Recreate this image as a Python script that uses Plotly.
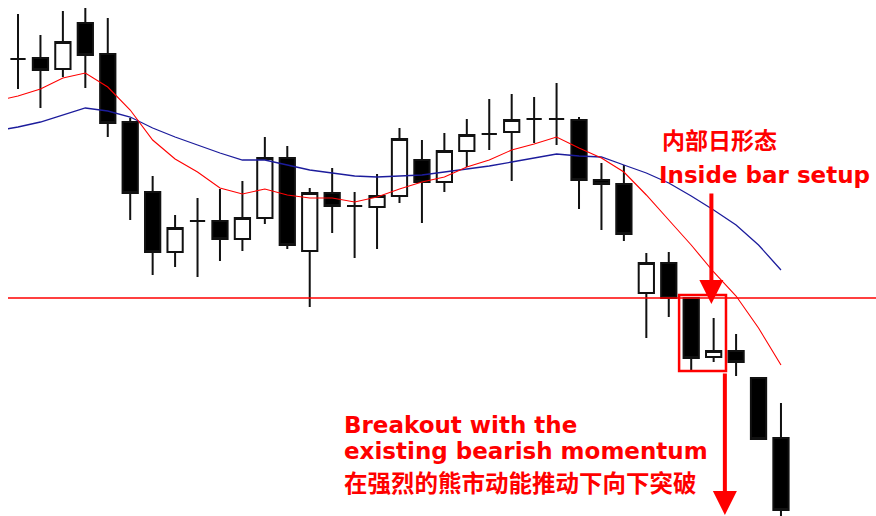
import plotly.graph_objects as go

# === Candle data (35 bars) ===
opens = [1.3239, 1.3240, 1.3229, 1.3275, 1.3244, 1.3176, 1.3106, 1.3046, 1.3077, 1.3077,
         1.3059, 1.3080, 1.3140, 1.3047, 1.3105, 1.3092, 1.3091, 1.3102, 1.3138, 1.3116,
         1.3147, 1.3164, 1.3166, 1.3179, 1.3179, 1.3178, 1.3118, 1.3114, 1.3005, 1.3035,
         1.3000, 1.2941, 1.2947, 1.2920, 1.2860]
highs = [1.3284, 1.3263, 1.3287, 1.3290, 1.3280, 1.3180, 1.3122, 1.3083, 1.3100, 1.3109,
         1.3117, 1.3161, 1.3152, 1.3110, 1.3130, 1.3106, 1.3124, 1.3170, 1.3158, 1.3165,
         1.3179, 1.3199, 1.3204, 1.3201, 1.3215, 1.3181, 1.3135, 1.3133, 1.3045, 1.3046,
         1.3000, 1.2980, 1.2964, 1.2921, 1.2895]
lows = [1.3209, 1.3190, 1.3221, 1.3210, 1.3161, 1.3078, 1.3023, 1.3031, 1.3021, 1.3037,
        1.3047, 1.3074, 1.3049, 1.2991, 1.3065, 1.3040, 1.3049, 1.3095, 1.3075, 1.3106,
        1.3131, 1.3148, 1.3117, 1.3155, 1.3153, 1.3089, 1.3068, 1.3057, 1.2960, 1.2981,
        1.2928, 1.2936, 1.2922, 1.2858, 1.2780]
closes = [1.3239, 1.3228, 1.3256, 1.3243, 1.3175, 1.3105, 1.3046, 1.3070, 1.3077, 1.3059,
          1.3080, 1.3140, 1.3053, 1.3105, 1.3092, 1.3092, 1.3102, 1.3159, 1.3116, 1.3147,
          1.3163, 1.3164, 1.3178, 1.3179, 1.3179, 1.3118, 1.3114, 1.3064, 1.3035, 1.3000,
          1.2940, 1.2947, 1.2936, 1.2859, 1.2788]

# === Moving averages (start one bar before the first visible candle) ===
ma_fast = [1.3197, 1.3202, 1.3209, 1.3220, 1.3225, 1.3211, 1.3188, 1.3158, 1.3139, 1.3126,
           1.3110, 1.3104, 1.3109, 1.3103, 1.3100, 1.3100, 1.3096, 1.3101, 1.3109, 1.3116,
           1.3121, 1.3131, 1.3138, 1.3148, 1.3154, 1.3161, 1.3150, 1.3140, 1.3126, 1.3103,
           1.3078, 1.3053, 1.3026, 1.3002, 1.2970, 1.2933]
ma_slow = [1.3167, 1.3171, 1.3176, 1.3183, 1.3190, 1.3187, 1.3181, 1.3170, 1.3161, 1.3153,
           1.3145, 1.3138, 1.3138, 1.3133, 1.3128, 1.3125, 1.3122, 1.3121, 1.3122, 1.3123,
           1.3126, 1.3129, 1.3132, 1.3136, 1.3140, 1.3144, 1.3142, 1.3141, 1.3133, 1.3125,
           1.3115, 1.3102, 1.3088, 1.3073, 1.3053, 1.3028]

support = 1.3000
inside_pair = (30, 31)  # mother bar + inside bar

bars = list(range(len(opens)))
ma_x = list(range(-1, len(opens)))

RED = "#ff0000"

fig = go.Figure()
fig.add_trace(go.Scatter(x=ma_x, y=ma_slow, mode="lines",
                         line=dict(color="#1c1c9c", width=1.3), hoverinfo="skip"))
fig.add_trace(go.Scatter(x=ma_x, y=ma_fast, mode="lines",
                         line=dict(color=RED, width=1.1), hoverinfo="skip"))
fig.add_trace(go.Candlestick(
    x=bars, open=opens, high=highs, low=lows, close=closes,
    increasing=dict(fillcolor="white", line=dict(color="#111111", width=2)),
    decreasing=dict(fillcolor="black", line=dict(color="#111111", width=2)),
    whiskerwidth=0,
))

# support line
fig.add_shape(type="line", xref="paper", x0=0, x1=1, y0=support, y1=support,
              line=dict(color=RED, width=1.6))
# inside bar box
i0, i1 = inside_pair
fig.add_shape(type="rect", x0=i0 - 0.54, x1=i1 + 0.55,
              y0=lows[i0] - 0.0001, y1=highs[i0] + 0.0003,
              line=dict(color=RED, width=2.5), fillcolor="rgba(0,0,0,0)")

# arrows
fig.add_annotation(x=i1 - 0.1, y=support - 0.0006, ax=0, ay=-112, text="",
                   showarrow=True, arrowhead=2, arrowsize=1.2, arrowwidth=4, arrowcolor=RED)
fig.add_annotation(x=i1 + 0.5, y=0, yref="paper", ax=0, ay=-144, text="",
                   showarrow=True, arrowhead=2, arrowsize=1.2, arrowwidth=4, arrowcolor=RED)

# texts
def label(txt, x, y, family, size):
    fig.add_annotation(text=txt, xref="paper", yref="paper", x=x, y=y,
                       xanchor="left", yanchor="middle", showarrow=False,
                       font=dict(family=family, size=size, color=RED, weight="bold"))

label("内部日形态", 0.7512, 0.7306, "Noto Sans CJK SC", 23)
label("Inside bar setup", 0.7477, 0.6609, "DejaVu Sans", 23)
label("Breakout with the", 0.3848, 0.1764, "DejaVu Sans", 23)
label("existing bearish momentum", 0.3848, 0.126, "DejaVu Sans", 23)
label("在强烈的熊市动能推动下向下突破", 0.3848, 0.0659, "Noto Sans CJK SC", 23.5)

fig.update_layout(
    width=876, height=516,
    margin=dict(l=8, r=0, t=0, b=0),
    paper_bgcolor="white", plot_bgcolor="white",
    showlegend=False, boxgap=0.32, boxgroupgap=0,
    xaxis=dict(visible=False, range=[-0.446, 38.235], rangeslider=dict(visible=False)),
    yaxis=dict(visible=False, range=[1.2782, 1.3298]),
)

fig.write_html("out.html", config={"displayModeBar": False},
               post_script="document.body.style.margin='0';")
